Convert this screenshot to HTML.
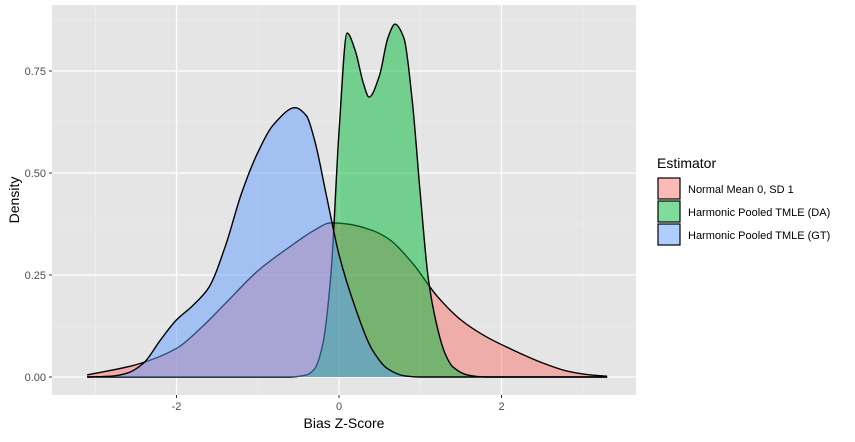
<!DOCTYPE html>
<html><head><meta charset="utf-8"><style>
body{margin:0;background:#fff;font-family:"Liberation Sans",sans-serif}
</style></head><body>
<svg width="855" height="437" xmlns="http://www.w3.org/2000/svg">
<rect x="52" y="5" width="584" height="390" fill="#e5e5e5"/>
<g id="grid"></g>
<g id="areas"></g>
<g id="axes" font-size="11" fill="#4d4d4d"></g>
<text x="344" y="428" font-size="14" text-anchor="middle" fill="#000">Bias Z-Score</text>
<text transform="translate(19,200) rotate(-90)" font-size="14" text-anchor="middle" fill="#000">Density</text>
<g>
<text x="657" y="168" font-size="14" fill="#000">Estimator</text>
<g id="legend"></g>
</g>
</svg>
<script>
const xTicks=[-2,0,2];
const yTicks=[0,0.25,0.5,0.75];
const yTickLabels=["0.00","0.25","0.50","0.75"];
const seriesNames=["Normal Mean 0, SD 1","Harmonic Pooled TMLE (DA)","Harmonic Pooled TMLE (GT)"];
const redX=[-3.1,-2.5,-2.0,-1.7,-1.4,-1.0,-0.6,-0.3,-0.1,0.1,0.4,0.6,0.9,1.2,1.5,1.8,2.1,2.5,2.8,3.1,3.3];
const redY=[0.005,0.03,0.07,0.12,0.18,0.26,0.32,0.36,0.378,0.375,0.36,0.34,0.28,0.20,0.14,0.10,0.07,0.035,0.015,0.005,0.002];
const greenX=[-3.1,-0.6,-0.4,-0.3,-0.2,-0.1,0.0,0.1,0.2,0.3,0.37,0.5,0.6,0.69,0.8,0.9,1.0,1.1,1.2,1.3,1.4,1.6,1.8,3.3];
const greenY=[0,0,0.005,0.02,0.08,0.25,0.6,0.843,0.8,0.72,0.686,0.74,0.83,0.865,0.83,0.68,0.45,0.24,0.13,0.06,0.025,0.004,0,0];
const blueX=[-3.1,-2.8,-2.6,-2.4,-2.2,-2.0,-1.8,-1.6,-1.4,-1.2,-1.0,-0.8,-0.54,-0.4,-0.3,-0.15,0.0,0.2,0.4,0.6,0.8,1.0,3.3];
const blueY=[0,0.002,0.01,0.035,0.09,0.14,0.175,0.22,0.32,0.45,0.55,0.62,0.66,0.64,0.58,0.44,0.30,0.17,0.07,0.02,0.003,0,0];
const fills=["#F8766D","#00BA38","#619CFF"];
const ns="http://www.w3.org/2000/svg";
const sx=v=>339+v*81.25, sy=v=>377-v*408;
function mk(t,a,p){const e=document.createElementNS(ns,t);for(const k in a)e.setAttribute(k,a[k]);p.appendChild(e);return e;}
const grid=document.getElementById('grid');
[-3,-1,1,3].forEach(v=>{const l=mk('line',{x1:sx(v),x2:sx(v),y1:5,y2:395,stroke:'#f2f2f2','stroke-width':0.6},grid);});
[0.125,0.375,0.625,0.875].forEach(v=>{const l=mk('line',{x1:52,x2:636,y1:sy(v),y2:sy(v),stroke:'#f2f2f2','stroke-width':0.6},grid);});
xTicks.forEach(v=>{const l=mk('line',{x1:sx(v),x2:sx(v),y1:5,y2:395,stroke:'#fff','stroke-width':1.2},grid);});
yTicks.forEach(v=>{const l=mk('line',{x1:52,x2:636,y1:sy(v),y2:sy(v),stroke:'#fff','stroke-width':1.2},grid);});
const ax=document.getElementById('axes');
xTicks.forEach(v=>{mk('line',{x1:sx(v),x2:sx(v),y1:395,y2:398,stroke:'#333'},ax);const t=mk('text',{x:sx(v),y:410,'text-anchor':'middle'},ax);t.textContent=v;});
yTicks.forEach((v,i)=>{mk('line',{x1:49,x2:52,y1:sy(v),y2:sy(v),stroke:'#333'},ax);const t=mk('text',{x:46,y:sy(v)+4,'text-anchor':'end'},ax);t.textContent=yTickLabels[i];});
function path(xs,ys){const P=xs.map((x,i)=>[sx(x),sy(ys[i])]);const n=P.length;
const d=[],m=[];for(let i=0;i<n-1;i++)d.push((P[i+1][1]-P[i][1])/(P[i+1][0]-P[i][0]));
m[0]=d[0];m[n-1]=d[n-2];
for(let i=1;i<n-1;i++){if(d[i-1]*d[i]<=0)m[i]=0;else{const h0=P[i][0]-P[i-1][0],h1=P[i+1][0]-P[i][0];m[i]=3*(h0+h1)/((2*h1+h0)/d[i-1]+(h1+2*h0)/d[i]);}}
let s=`M${P[0][0]},${P[0][1]}`;
for(let i=0;i<n-1;i++){const h=(P[i+1][0]-P[i][0])/3;
s+=` C${P[i][0]+h},${P[i][1]+m[i]*h} ${P[i+1][0]-h},${P[i+1][1]-m[i+1]*h} ${P[i+1][0]},${P[i+1][1]}`;}
return s;}
const areas=document.getElementById('areas');
[[redX,redY],[greenX,greenY],[blueX,blueY]].forEach((s,i)=>{const d=path(s[0],s[1]);
const a=mk('path',{d:d+` L${sx(s[0][s[0].length-1])},${sy(0)} L${sx(s[0][0])},${sy(0)} Z`,fill:fills[i],'fill-opacity':0.5,stroke:'none'},areas);

const l=mk('path',{d:d,fill:'none',stroke:'#000','stroke-width':1.4},areas);
});
const lg=document.getElementById('legend');
seriesNames.forEach((n,i)=>{const y=178+i*23;
const r=mk('rect',{x:658,y:y,width:22,height:21,fill:fills[i],'fill-opacity':0.5,stroke:'#000','stroke-width':1.2},lg);

const t=mk('text',{x:688,y:y+15,'font-size':11,fill:'#000'},lg);t.textContent=n;
});
</script>
</body></html>
